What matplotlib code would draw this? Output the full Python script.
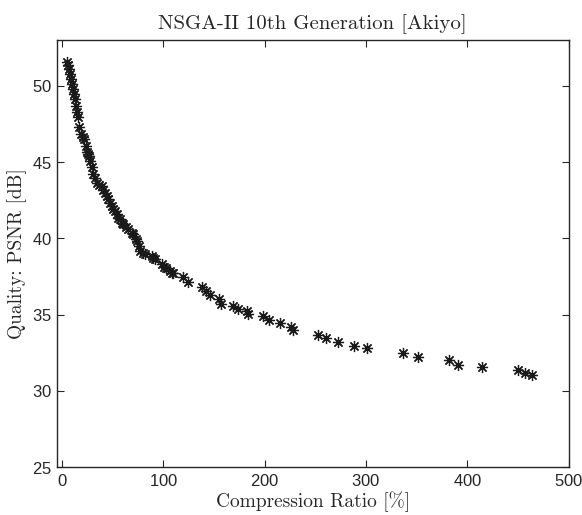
import matplotlib
matplotlib.use("Agg")
import matplotlib.pyplot as plt
import numpy as np

# Compression ratio [%]
cr = [4.6, 5.8, 6.9, 7.9, 9.0, 10.2, 11.2, 12.0, 12.8, 13.8, 14.5, 16.1, 16.8,
      18.8, 20.5, 22.0, 23.4, 24.4, 25.5, 26.7, 27.6, 29.3, 30.9, 32.5, 34.3,
      36.5, 39.2, 40.8, 42.4, 44.0, 45.7, 47.5, 49.0, 50.5, 52.3, 54.0, 55.6,
      57.3, 58.9, 60.5, 63.0, 65.4, 68.8, 70.4, 73.0, 73.7, 76.3, 77.0, 80.3,
      81.9, 88.5, 90.1, 91.8, 98.4, 100.5, 102.7, 106.6, 108.3, 109.9, 119.7,
      124.7, 137.9, 141.9, 146.1, 155.3, 156.7, 169.1, 174.0, 182.3, 183.9,
      198.0, 204.6, 215.2, 225.7, 227.7, 253.0, 260.6, 272.2, 288.3, 300.8,
      337.0, 351.7, 382.0, 391.2, 414.3, 450.5, 457.0, 463.7]
# Quality PSNR [dB]
psnr = [51.6, 51.35, 51.1, 50.79, 50.45, 50.13, 49.8, 49.47, 49.14, 48.7,
        48.27, 47.94, 47.28, 46.84, 46.67, 46.5, 46.07, 45.64, 45.55, 45.41,
        45.08, 44.65, 44.2, 43.95, 43.66, 43.5, 43.44, 43.2, 43.0, 42.8, 42.57,
        42.35, 42.13, 41.95, 41.8, 41.58, 41.36, 41.25, 41.03, 40.92, 40.75,
        40.6, 40.37, 40.26, 39.93, 39.82, 39.5, 39.16, 39.06, 38.95, 38.84,
        38.73, 38.68, 38.33, 38.15, 38.03, 37.85, 37.74, 37.7, 37.45, 37.15,
        36.8, 36.58, 36.28, 36.03, 35.68, 35.55, 35.4, 35.26, 35.07, 34.93,
        34.67, 34.45, 34.19, 33.97, 33.68, 33.46, 33.18, 32.96, 32.8, 32.48,
        32.19, 32.0, 31.71, 31.56, 31.34, 31.2, 31.05]

xticks = [0, 100, 200, 300, 400, 500]
yticks = [25, 30, 35, 40, 45, 50]

title = "NSGA-II 10th Generation [Akiyo]"
xlabel = "Compression Ratio [%]"
ylabel = "Quality: PSNR [dB]"

plt.rcParams['axes.formatter.use_mathtext'] = True
fig = plt.figure(figsize=(5.82, 5.15), dpi=100)
ax = fig.add_axes([0.098, 0.093, 0.879, 0.829])

ax.plot(cr, psnr, linestyle='none', marker=(8, 2, 0), markersize=8,
        markeredgewidth=0.9, color='#1a1a1a', markeredgecolor='#1a1a1a')

ax.set_xlim(-5, 500)
ax.set_ylim(25, 53)
ax.set_xticks(xticks)
ax.set_yticks(yticks)
ax.tick_params(direction='in', top=True, right=True, length=5, width=0.8,
               labelsize=12, colors='#262626', pad=4)
for lab in ax.get_xticklabels() + ax.get_yticklabels():
    lab.set_fontfamily('Liberation Sans')
for s in ax.spines.values():
    s.set_linewidth(1.0)
    s.set_color('#262626')

ax.set_title(title, fontfamily='cmr10', fontsize=15, pad=8, color='#262626')
ax.set_xlabel(xlabel, fontfamily='cmr10', fontsize=14, labelpad=2, color='#262626')
ax.set_ylabel(ylabel, fontfamily='cmr10', fontsize=14, labelpad=3, color='#262626')

fig.savefig('out.png', dpi=100)
